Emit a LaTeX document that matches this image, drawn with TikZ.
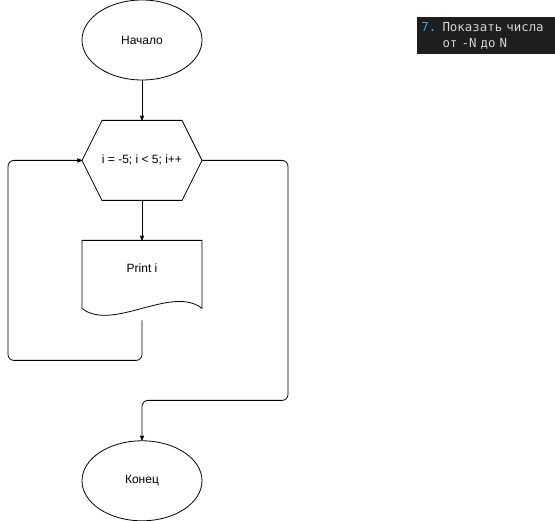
\documentclass[tikz,border=0pt]{standalone}
\usepackage{fontspec}
\setmainfont{Liberation Sans}
\newfontfamily\codefont{DejaVu Sans Mono}
\usepackage{tikz}
\usetikzlibrary{
  arrows,
  shapes.geometric,
  chains,
  positioning,
  scopes
}
\definecolor{codebg}{HTML}{1E1E1E}
\definecolor{codefg}{HTML}{D4D4D4}
\definecolor{codenum}{HTML}{569CD6}

\begin{document}
\begin{tikzpicture}[
      x=1pt,y=1pt,
      terminal/.style={
         ellipse,
         draw,
         minimum width=120pt,
         minimum height=80pt,
         inner sep=0pt,
         font=\fontsize{12}{14}\selectfont
      },
      loopbox/.style={
         rectangle,
         minimum width=120pt,
         minimum height=80pt,
         inner sep=0pt,
         outer sep=0pt,
         font=\fontsize{12}{14}\selectfont
      },
      docbox/.style={
         rectangle,
         minimum width=120pt,
         minimum height=80pt,
         inner sep=0pt,
         outer sep=0pt,
         text height=9pt,
         text depth=24pt,
         font=\fontsize{12}{14}\selectfont
      },
      note/.style={
         rectangle,
         anchor=north west,
         fill=codebg,
         text=codefg,
         minimum width=138pt,
         minimum height=37pt,
         text width=130pt,
         inner xsep=4pt,
         inner ysep=0pt,
         align=left,
         font=\codefont\fontsize{12.4}{16}\selectfont
      },
      point/.style={coordinate},>=stealth',thick,
      tip/.style={->,shorten >=0.007pt},every join/.style={rounded corners=6pt},
      loop back/.style={to path={-- ++(0,-80pt) -- ++(-134pt,0) |- (\tikztotarget)}},
      skip right/.style={to path={-- ++(146pt,0) -- ++(0,-240pt) -| (\tikztotarget)}}
    ]
    \useasboundingbox (0,0) rectangle (555,-521);
    \node (n1) [terminal] at (142,-40) {Начало};
    \node (n2) [loopbox, below=40pt of n1] {i = -5; i < 5; i++};
    \node (n3) [docbox, below=40pt of n2] {Print i};
    \node (n4) [terminal, below=120pt of n3] {Конец};
    \node (n5) [note] at (417,-17) {\textcolor{codenum}{7.} Показать числа\\\phantom{7. }от -N до N};
    \draw (n2.west) -- ([xshift=20pt]n2.north west) -- ([xshift=-20pt]n2.north east)
       -- (n2.east) -- ([xshift=-20pt]n2.south east) -- ([xshift=20pt]n2.south west) -- cycle;
    \draw (n3.north west) -- (n3.north east) -- ([yshift=12pt]n3.south east)
       .. controls ([xshift=-30pt,yshift=36pt]n3.south east) and ([xshift=30pt,yshift=-12pt]n3.south west)
       .. ([yshift=12pt]n3.south west) -- cycle;
  { [start chain]
       \chainin (n1);
       \chainin (n2)    [join=by tip];
       \chainin (n3)    [join=by tip];
       \chainin (n2)    [join=by {loop back,tip}];
  }
  { [start chain]
       \chainin (n2);
       \chainin (n4)    [join=by {skip right,tip}];
  }
\end{tikzpicture}
\end{document}
